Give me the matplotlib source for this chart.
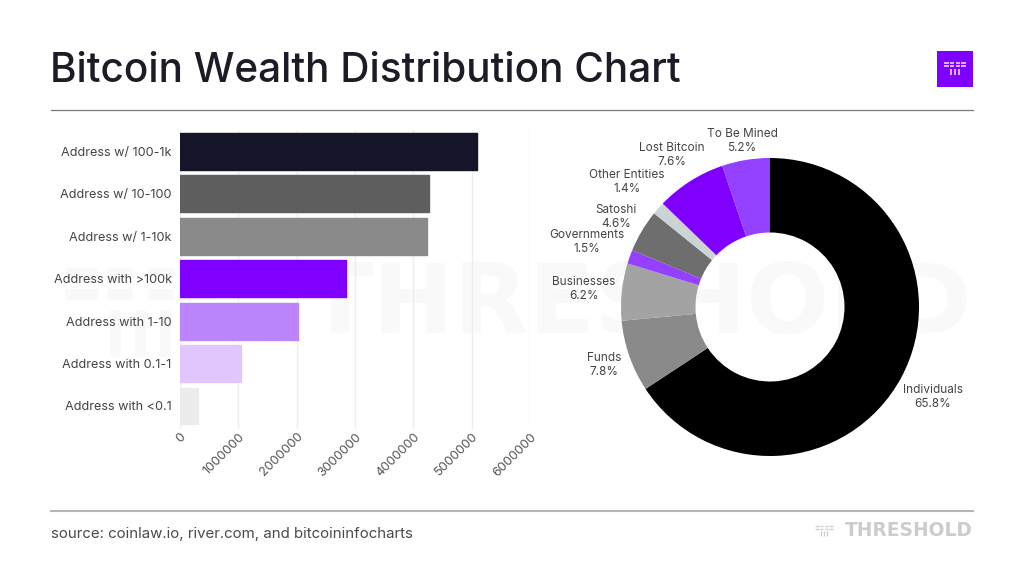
import matplotlib

matplotlib.use("Agg")
import matplotlib.pyplot as plt

plt.rcParams["font.family"] = ["Inter", "DejaVu Sans"]

W, H = 1024, 585

bar_labels = ["Address w/ 100-1k", "Address w/ 10-100", "Address w/ 1-10k", "Address with >100k",
              "Address with 1-10", "Address with 0.1-1", "Address with <0.1"]
bar_values = [5090000, 4270000, 4230000, 2850000, 2030000, 1050000, 310000]
bar_colors = ["#15152a", "#5e5e5e", "#8a8a8a", "#7f00ff", "#bb86fc", "#e0c6fd", "#ececec"]
x_ticks = [0, 1000000, 2000000, 3000000, 4000000, 5000000, 6000000]

pie_labels = ["Individuals", "Funds", "Businesses", "Governments", "Satoshi",
              "Other Entities", "Lost Bitcoin", "To Be Mined"]
pie_values = [65.8, 7.8, 6.2, 1.5, 4.6, 1.4, 7.6, 5.2]
pie_colors = ["#000000", "#8a8a8a", "#a3a3a3", "#9340ff", "#6e6e6e", "#ccd3d3", "#7f00ff", "#9340ff"]
# label centres in pixels
pie_label_pos = [(933, 397), (604, 365), (584, 289), (587, 242), (616, 217),
                 (627, 182), (672, 155), (742, 141)]


def draw_logo(ax, cx, cy, size, color, zorder=1):
    # the little dragonfly-like mark
    u = size / 18
    lw = u * 0.95
    for dy in (-4, -1.5):
        for x0, x1 in ((-9, -5), (-4, -1), (1, 4), (5, 9)):
            ax.plot([cx + x0 * u, cx + x1 * u], [cy + dy * u, cy + dy * u],
                    color=color, lw=lw, solid_capstyle="butt", zorder=zorder)
    for dx in (-3, 0, 3):
        ax.plot([cx + dx * u, cx + dx * u], [cy + 0.5 * u, cy + 6 * u],
                color=color, lw=lw, solid_capstyle="butt", zorder=zorder)


fig = plt.figure(figsize=(W / 100, H / 100), dpi=100, facecolor="white")

# background layer in pixel coordinates
bg = fig.add_axes([0, 0, 1, 1], zorder=-1)
bg.set_xlim(0, W)
bg.set_ylim(H, 0)
bg.axis("off")

bg.text(972, 306, "THRESHOLD", fontsize=70, fontweight="bold", color="#f9f9f9",
        ha="right", va="center", family="DejaVu Sans")
draw_logo(bg, 140, 306, 150, "#f9f9f9")

bg.text(50, 71, "Bitcoin Wealth Distribution Chart", fontsize=29.2, fontweight="medium",
        color="#1c1c26", ha="left", va="center")
bg.plot([51, 973], [109.5, 109.5], color="#7a7a7a", lw=0.9)
bg.plot([51, 973], [510.5, 510.5], color="#b5b5b5", lw=1.5)
bg.text(51, 534, "source: coinlaw.io, river.com, and bitcoininfocharts", fontsize=10.8,
        color="#4a4a4a", ha="left", va="center")
bg.text(973, 531, "THRESHOLD", fontsize=13.4, fontweight="bold", color="#cccccc",
        ha="right", va="center", family="DejaVu Sans")
draw_logo(bg, 824, 530, 18, "#cccccc")

bg.add_patch(plt.Rectangle((937, 51), 36, 36, color="#7f00ff", lw=0))
draw_logo(bg, 955, 68, 22, "#f0dcff", zorder=3)

# bars
ax = fig.add_axes([180 / W, 1 - 429.3 / H, 350 / W, 299 / H])
ax.patch.set_alpha(0)
ax.barh(range(len(bar_values)), bar_values, height=0.87, color=bar_colors, edgecolor=bar_colors,
        linewidth=1, joinstyle="round", zorder=2)
ax.set_xlim(0, 6000000)
ax.set_ylim(6.55, -0.5)
ax.set_xticks(x_ticks)
ax.set_xticklabels([str(t) for t in x_ticks], rotation=45, ha="right", rotation_mode="anchor",
                   fontsize=9.2, color="#555555")
ax.set_yticks(range(len(bar_labels)))
ax.set_yticklabels(bar_labels, fontsize=9.1, color="#444444")
ax.tick_params(axis="both", length=0)
ax.tick_params(axis="y", pad=6)
ax.tick_params(axis="x", pad=1)
ax.grid(axis="x", color="#eeeeee", lw=1, zorder=0)
ax.set_axisbelow(True)
for spine in ax.spines.values():
    spine.set_visible(False)

# donut
R = 149
pie_ax = fig.add_axes([(770 - R) / W, 1 - (307 + R) / H, 2 * R / W, 2 * R / H])
pie_ax.pie(pie_values, colors=pie_colors, startangle=90, counterclock=False, radius=1,
           wedgeprops={"width": 0.5, "linewidth": 0})
pie_ax.set_xlim(-1, 1)
pie_ax.set_ylim(-1, 1)

for name, val, (px, py) in zip(pie_labels, pie_values, pie_label_pos):
    bg.text(px, py, f"{name}\n{val}%", fontsize=8.5, color="#444444", ha="center", va="center",
            linespacing=1.2)

fig.savefig("out.png", dpi=100)
